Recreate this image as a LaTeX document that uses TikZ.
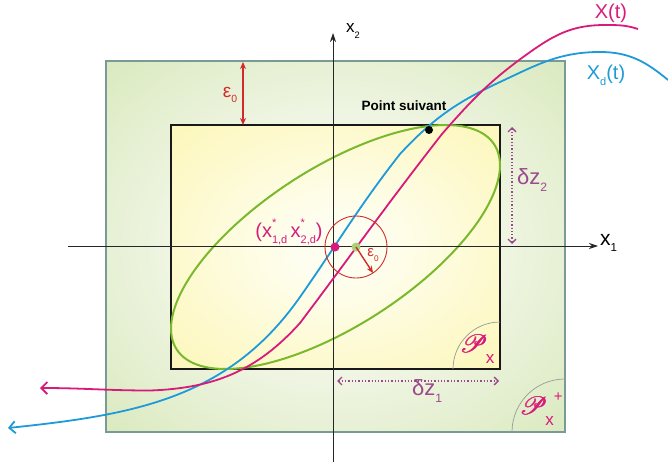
\documentclass[tikz,border=0pt]{standalone}
\usepackage{fontspec}
\setmainfont{Liberation Sans}
\usepackage{mathrsfs}
\usetikzlibrary{arrows.meta}
\definecolor{pinkC}{HTML}{D81B7A}
\definecolor{blueC}{HTML}{1E9AD8}
\definecolor{greenE}{HTML}{7AB82E}
\definecolor{redC}{HTML}{D22B2B}
\definecolor{purpC}{HTML}{9A4A8C}
\definecolor{gCen}{HTML}{F6F9EE}
\definecolor{gCor}{HTML}{B0D278}
\definecolor{yCen}{HTML}{FEFEF0}
\definecolor{yCor}{HTML}{FAEE78}
\definecolor{frameC}{HTML}{7A9A98}
\pgfdeclareradialshading{greenglow}{\pgfpoint{0bp}{0bp}}{color(0bp)=(gCen); color(12bp)=(gCen); color(71bp)=(gCor)}
\pgfdeclareradialshading{yellowglow}{\pgfpoint{0bp}{0bp}}{color(0bp)=(yCen); color(6bp)=(yCen); color(71bp)=(yCor)}
\newcommand\sbs[1]{\raisebox{-0.3em}{\scalebox{0.55}{#1}}}
\newcommand\sps[1]{\raisebox{0.55em}{\scalebox{0.55}{#1}}}
\newcommand\xst[1]{x\rlap{\sps{*}}\sbs{#1}}
\newcommand\scrP{\rlap{$\mathscr{P}$}\kern0.5pt\rlap{$\mathscr{P}$}\kern0.5pt$\mathscr{P}$}
\tikzset{
  lbl/.style={inner sep=0pt, outer sep=0pt},
  fs/.style={font=\fontsize{#1}{#1}\selectfont},
  axis/.style={line width=0.9pt, black!85, -{Stealth[length=9pt,width=6pt]}},
  curve/.style={line width=1.8pt, {Straight Barb[length=6pt,width=12pt,line width=1.8pt]}-},
  dz/.style={purpC, line width=1.3pt, dotted, {Straight Barb[length=4pt,width=8pt]}-{Straight Barb[length=4pt,width=8pt]}},
  eps/.style={redC, line width=1.4pt, {Stealth[length=7pt,width=6pt]}-{Stealth[length=7pt,width=6pt]}},
  dot/.style={circle, inner sep=0pt, minimum size=9pt, draw=none},
  corner/.style={gray!80, line width=0.7pt}
}
\begin{document}
\begin{tikzpicture}[x=1pt,y=-1pt]
\useasboundingbox (0,0) rectangle (668,468);
% outer region
\path[shading=greenglow] (106,61) rectangle (565,432);
\draw[frameC, line width=1.5pt] (106,61) rectangle (565,432);
% inner region
\path[shading=yellowglow] (171,125) rectangle (500,369);
\draw[black!90, line width=1.6pt] (171,125) rectangle (500,369);
% corner arcs
\draw[corner] (453,369) arc[start angle=180, end angle=270, radius=47];
\draw[corner] (512,432) arc[start angle=180, end angle=270, radius=53];
% ellipse
\draw[greenE, line width=2pt] plot[domain=0:360, samples=145] ({335.5+164.5*cos(\x)},{247-122*cos(\x-48)}) -- cycle;
% axes
\coordinate (x1s) at (68,246);
\coordinate (x1e) at (598,246);
\coordinate (x2s) at (333,462);
\coordinate (x2e) at (333,33);
\draw[axis] (x1s) -- (x1e);
\draw[axis] (x2s) -- (x2e);
\node[lbl, fs=21, anchor=west] (lx1) at (600,243) {x\sbs{1}};
\node[lbl, fs=17, anchor=west] (lx2) at (346,31) {x\sbs{2}};
% curves
\coordinate (b0) at (8,428);
\coordinate (b1) at (300,297);
\coordinate (b2) at (400,154);
\coordinate (b3) at (500,82);
\coordinate (b4) at (600,52);
\coordinate (b5) at (668,80);
\draw[curve, blueC] (b0) to[out=6, in=-125] (b1) to[out=55, in=-128] (b2)
  to[out=47, in=-155] (b3) to[out=25, in=180] (b4) to[out=0, in=140] (b5);
\coordinate (p0) at (40,388);
\coordinate (p1) at (150,390.5);
\coordinate (p2) at (300,323);
\coordinate (p3) at (442,134);
\coordinate (p4) at (533,50);
\coordinate (p5) at (605,25);
\coordinate (p6) at (638,29);
\draw[curve, pinkC] (p0) to[out=0, in=180] (p1) to[out=2, in=-132] (p2)
  to[out=53, in=-128] (p3) to[out=49, in=-145] (p4) to[out=35, in=180] (p5)
  to[out=0, in=162] (p6);
\node[lbl, fs=20, pinkC] (lX) at (611,13) {X(t)};
\node[lbl, fs=20, blueC] (lXd) at (606,75) {X\sbs{d}(t)};
% top epsilon
\coordinate (e1) at (243,62);
\coordinate (e2) at (243,125);
\draw[eps] (e1) -- (e2);
\node[lbl, fs=19, redC] (le1) at (230,95) {ε\sbs{0}};
% dz arrows
\coordinate (d2a) at (512,127);
\coordinate (d2b) at (512,244);
\draw[dz] (d2a) -- (d2b);
\node[lbl, fs=22, purpC, anchor=west] (ldz2) at (517,180) {δz\sbs{2}};
\coordinate (d1a) at (337,381);
\coordinate (d1b) at (499,381);
\draw[dz] (d1a) -- (d1b);
\node[lbl, fs=22, purpC] (ldz1) at (427,391) {δz\sbs{1}};
% circle
\node[circle, draw=redC, line width=0.9pt, minimum size=62pt, inner sep=0pt] (circ) at (356,247) {};
\node[dot, fill=greenE!65] (gd) at (356,247) {};
\coordinate (ctip) at (373,273);
\draw[redC, line width=1.4pt, -{Stealth[length=7pt,width=6pt]}] (gd.center) -- (ctip);
\node[lbl, fs=15, redC] (le2) at (373,255) {ε\sbs{0}};
\node[dot, fill=pinkC] (pd) at (335,247) {};
\node[lbl, fs=20, pinkC] (lxd) at (289,232) {(\xst{1,d}\,\xst{2,d})};
% point suivant
\node[dot, fill=black, minimum size=8pt] (ps) at (429,130) {};
\node[lbl, font=\fontsize{13.5}{13.5}\selectfont\bfseries] (lps) at (404,106) {Point suivant};
% P labels
\node[lbl, pinkC] (lpx) at (477,349) {\fontsize{27}{27}\selectfont\scrP\kern-2pt\raisebox{-0.4em}{\fontsize{17}{17}\selectfont x}};
\node[lbl, pinkC] (lpxp) at (541,409) {\fontsize{27}{27}\selectfont\scrP\kern-2pt\raisebox{-0.4em}{\fontsize{17}{17}\selectfont x}\raisebox{0.5em}{\fontsize{15}{15}\selectfont +}};
\end{tikzpicture}
\end{document}
